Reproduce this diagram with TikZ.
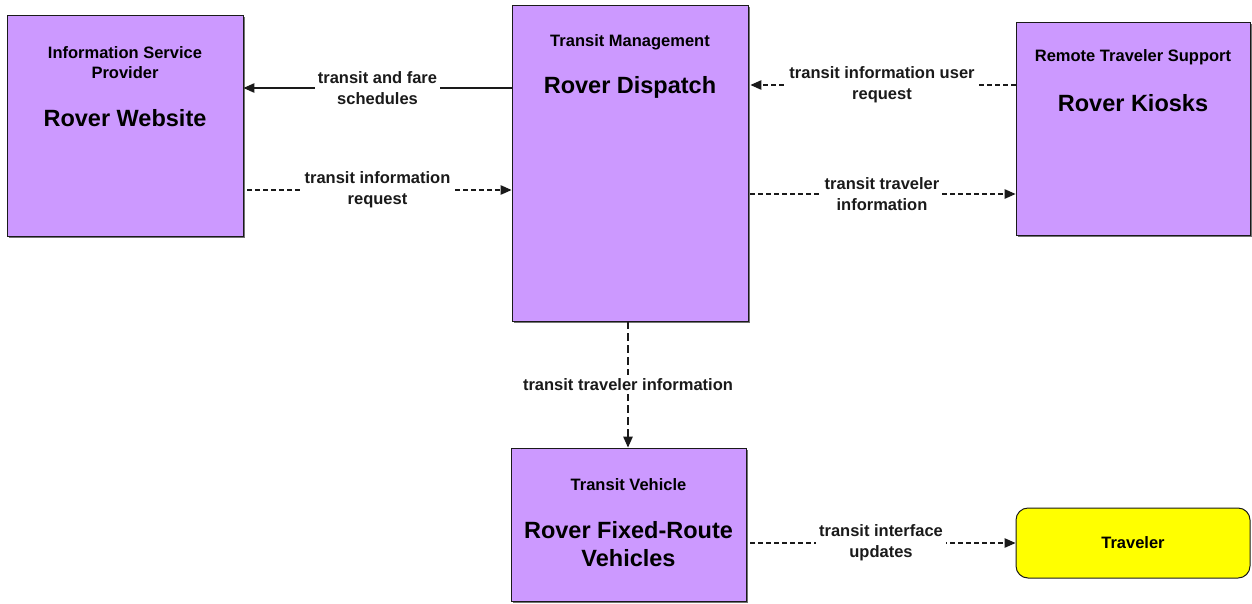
\documentclass[tikz,border=0pt]{standalone}
\usepackage{fontspec}
\setmainfont{Liberation Sans}
\usetikzlibrary{arrows.meta,shadows}
\definecolor{archPurple}{HTML}{CC99FF}
\definecolor{archYellow}{HTML}{FFFF00}
\definecolor{archLine}{HTML}{1A1A1A}

\begin{document}
\begin{tikzpicture}[x=1pt, y=-1pt,
      elem/.style={draw=archLine, line width=0.9pt, fill=archPurple,
        drop shadow={shadow xshift=1.6pt, shadow yshift=-1.6pt, fill=black!55, opacity=1},
        inner sep=0pt},
      term/.style={draw=archLine, line width=1pt, fill=archYellow, rounded corners=12pt,
        minimum width=234pt, minimum height=70pt, inner sep=0pt,
        font=\fontsize{16.5}{20}\selectfont\bfseries},
      cls/.style={align=center, inner sep=0pt, font=\fontsize{16.5}{20}\selectfont\bfseries},
      sysname/.style={align=center, inner sep=0pt, font=\fontsize{23.5}{28}\selectfont\bfseries},
      lbl/.style={fill=white, align=center, inner sep=3pt,
        font=\fontsize{16.5}{21}\selectfont\bfseries},
      flow/.style={-{Triangle[length=11pt,width=9.5pt]}, line width=1.2pt, archLine},
      req/.style={flow, dash pattern=on 5pt off 3pt}]
    \useasboundingbox (0,0) rectangle (1252,603);

    % elements
    \node[elem, minimum width=236pt, minimum height=221pt] (isp) at (125,125.5) {};
    \node[elem, minimum width=236pt, minimum height=316pt] (tm) at (630,163) {};
    \node[elem, minimum width=234pt, minimum height=213pt] (rts) at (1133,128.5) {};
    \node[elem, minimum width=235pt, minimum height=153pt] (tv) at (628.5,524.5) {};
    \node[term] (trav) at (1133,543) {Traveler};

    \node[cls] (isp-cls) at ([yshift=-48pt]isp.north) {Information Service\\Provider};
    \node[sysname] (isp-name) at ([yshift=-104pt]isp.north) {Rover Website};
    \node[cls] (tm-cls) at ([yshift=-38pt]tm.north) {Transit Management};
    \node[sysname] (tm-name) at ([yshift=-83pt]tm.north) {Rover Dispatch};
    \node[cls] (rts-cls) at ([yshift=-36pt]rts.north) {Remote Traveler Support};
    \node[sysname] (rts-name) at ([yshift=-82pt]rts.north) {Rover Kiosks};
    \node[cls] (tv-cls) at ([yshift=-37pt]tv.north) {Transit Vehicle};
    \node[sysname] (tv-name) at ([yshift=-97pt]tv.north) {Rover Fixed-Route\\Vehicles};

    % flows
    \draw[flow] (tm.west |- 0,88) -- node[lbl] {transit and fare\\schedules} (isp.east |- 0,88);
    \draw[req, shorten <=4pt] (isp.east |- 0,190) -- node[lbl] {transit information\\request} (tm.west |- 0,190);
    \draw[req, shorten >=2pt] (rts.west |- 0,85) -- node[lbl] {transit information user\\request} (tm.east |- 0,85);
    \draw[req, shorten <=2pt] (tm.east |- 0,194) -- node[lbl] {transit traveler\\information} (rts.west |- 0,194);
    \draw[req, dash pattern=on 8pt off 4pt] (tm.south -| 628,0) -- node[lbl] {transit traveler information} (tv.north -| 628,0);
    \draw[req, shorten <=4pt] (tv.east |- trav.west) -- node[lbl] {transit interface\\updates} (trav.west);
  \end{tikzpicture}
\end{document}
